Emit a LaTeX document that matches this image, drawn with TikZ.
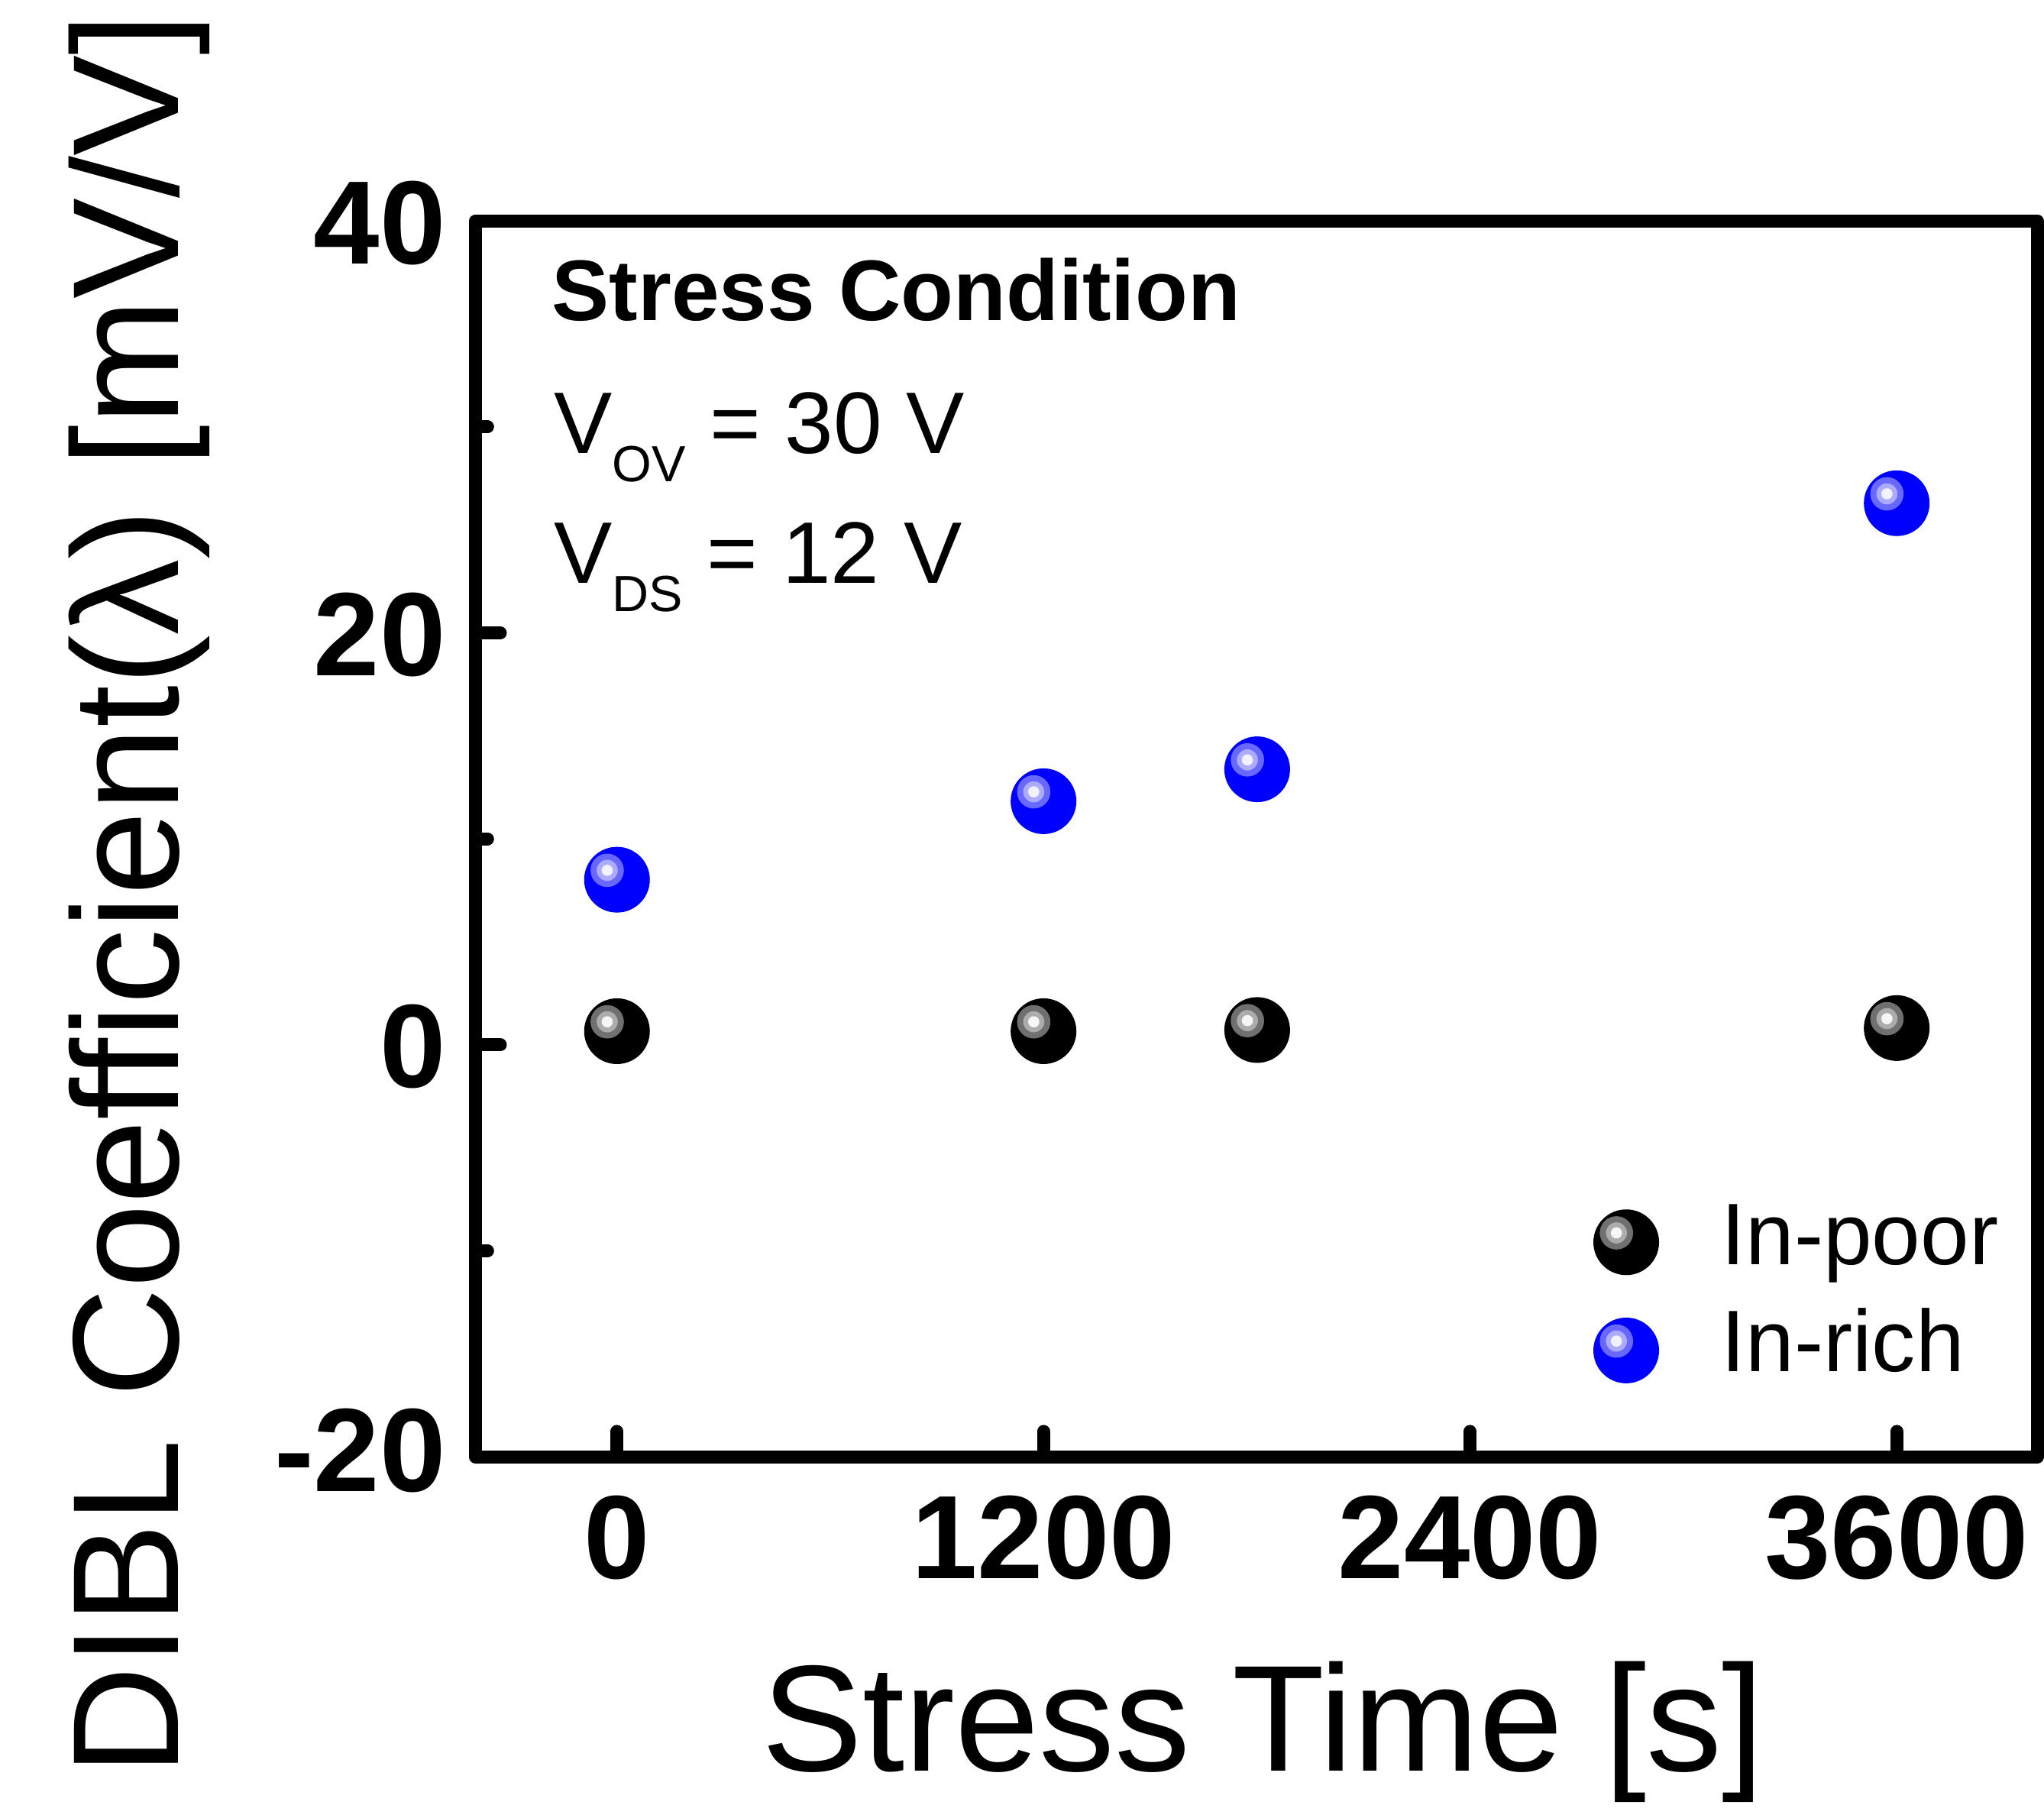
\documentclass[tikz,border=0pt]{standalone}
\usepackage{fontspec}
\setmainfont{Liberation Sans}
\newcommand{\setfsz}[1]{\fontsize{#1}{#1}\selectfont}
\definecolor{ballblue}{RGB}{0,0,255}
\definecolor{gKa}{RGB}{112,112,112}
\definecolor{gKb}{RGB}{172,172,172}
\definecolor{gKc}{RGB}{246,246,246}
\definecolor{gBa}{RGB}{104,104,255}
\definecolor{gBb}{RGB}{172,172,255}
\definecolor{gBc}{RGB}{242,242,255}
\begin{document}
\begin{tikzpicture}[x=1pt,y=1pt,
  frame/.style={line width=10pt, line join=round},
  tickmark/.style={line width=10pt, line cap=round},
  ticklabel/.style={inner sep=0pt, outer sep=0pt, font=\setfsz{91}\bfseries},
  plain/.style={inner sep=0pt, outer sep=0pt, font=\setfsz{67}},
  title/.style={inner sep=0pt, outer sep=0pt, font=\setfsz{116}},
  hl/.style n args={3}{path picture={
      \fill[#1] ([shift={(-7.5pt,7.2pt)}]path picture bounding box.center) circle[radius=12.8pt];
      \fill[#2] ([shift={(-7.5pt,7.2pt)}]path picture bounding box.center) circle[radius=8.1pt];
      \fill[#3] ([shift={(-7.5pt,7.2pt)}]path picture bounding box.center) circle[radius=4.3pt];}},
  ballK/.style={circle, minimum size=50.4pt, inner sep=0pt, outer sep=0pt, fill=black, hl={gKa}{gKb}{gKc}},
  ballB/.style={circle, minimum size=50.4pt, inner sep=0pt, outer sep=0pt, fill=ballblue, hl={gBa}{gBb}{gBc}}
]
\useasboundingbox (0,0) rectangle (1568,-1394);

% frame
\draw[frame] (364.8,-169.5) rectangle (1562.8,-1117.5);

% y ticks (major)
\draw[tickmark] (364.8,-485.5) -- (383.8,-485.5);
\draw[tickmark] (364.8,-801.5) -- (383.8,-801.5);
% y ticks (minor)
\draw[tickmark] (364.8,-327.5) -- (374,-327.5);
\draw[tickmark] (364.8,-643.5) -- (374,-643.5);
\draw[tickmark] (364.8,-959.5) -- (374,-959.5);
% x ticks
\draw[tickmark] (473.3,-1117.5) -- (473.3,-1098);
\draw[tickmark] (800.5,-1117.5) -- (800.5,-1098);
\draw[tickmark] (1127.7,-1117.5) -- (1127.7,-1098);
\draw[tickmark] (1455,-1117.5) -- (1455,-1098);

% y tick labels
\node[ticklabel, anchor=base east] (y40) at (342,-202.5) {40};
\node[ticklabel, anchor=base east] (y20) at (342,-518) {20};
\node[ticklabel, anchor=base east] (y0) at (342,-834) {0};
\node[ticklabel, anchor=base east] (ym20) at (342,-1144) {-20};
% x tick labels
\node[ticklabel, anchor=base] (x0) at (473.3,-1211) {0};
\node[ticklabel, anchor=base] (x1200) at (800.5,-1211) {1200};
\node[ticklabel, anchor=base] (x2400) at (1127.7,-1211) {2400};
\node[ticklabel, anchor=base] (x3600) at (1455,-1211) {3600};

% axis titles
\node[title, anchor=base] (xtitle) at (969,-1358.4) {Stress Time [s]};
\node[title, anchor=base, rotate=90] (ytitle) at (136.7,-686) {DIBL Coefficient(λ) [mV/V]};

% annotation
\node[inner sep=0pt, outer sep=0pt, font=\setfsz{66}\bfseries, anchor=base west] (cond) at (423.5,-246) {Stress Condition};
\node[plain, anchor=base west] (vov) at (425,-347.6) {V\raisebox{-22pt}{\setfsz{39}OV} = 30 V};
\node[plain, anchor=base west] (vds) at (425,-447.5) {V\raisebox{-21.5pt}{\setfsz{39}DS} = 12 V};

% data: In-poor
\node[ballK] (k0) at (473.3,-791.0) {};
\node[ballK] (k1200) at (800.5,-791.0) {};
\node[ballK] (k1800) at (964.4,-790.1) {};
\node[ballK] (k3600) at (1455,-788.6) {};
% data: In-rich
\node[ballB] (b0) at (473.3,-674.8) {};
\node[ballB] (b1200) at (800.5,-614.6) {};
\node[ballB] (b1800) at (964.4,-590.1) {};
\node[ballB] (b3600) at (1455,-386.0) {};

% legend
\node[ballK] (legK) at (1247.5,-952.9) {};
\node[ballB] (legB) at (1247.5,-1035.9) {};
\node[plain, anchor=base west] (legKt) at (1320.7,-969.8) {In-poor};
\node[plain, anchor=base west] (legBt) at (1320.7,-1052) {In-rich};
\end{tikzpicture}
\end{document}
